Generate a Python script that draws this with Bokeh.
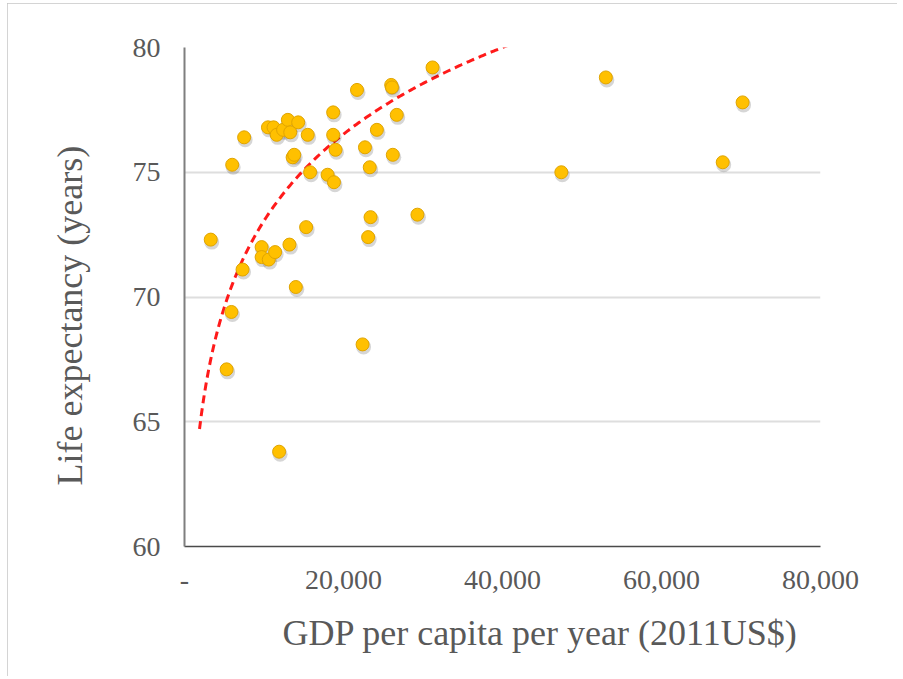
import numpy as np
from bokeh.plotting import figure
from bokeh.models import ColumnDataSource, FixedTicker, NumeralTickFormatter, Range1d, Title
from bokeh.embed import file_html
from bokeh.resources import INLINE

# GDP per capita (2011 US$) and life expectancy (years)
gdp = [3300, 5300, 5900, 6000, 7300, 7500, 9700, 9700, 10600, 11400,
       13200, 15300, 14000, 22400, 11900, 23100, 10500, 11200, 11600, 12400,
       13000, 13300, 14300, 15500, 13600, 13800, 15800, 18000, 18800, 18700,
       18700, 19000, 21700, 26000, 26100, 31200, 26700, 24200, 22700, 26200,
       23300, 23400, 29300, 47400, 53000, 67700, 70200]
life = [72.3, 67.1, 69.4, 75.3, 71.1, 76.4, 72.0, 71.6, 71.5, 71.8,
        72.1, 72.8, 70.4, 68.1, 63.8, 72.4, 76.8, 76.8, 76.5, 76.7,
        77.1, 76.6, 77.0, 76.5, 75.6, 75.7, 75.0, 74.9, 74.6, 77.4,
        76.5, 75.9, 78.3, 78.5, 78.4, 79.2, 77.3, 76.7, 76.0, 75.7,
        75.2, 73.2, 73.3, 75.0, 78.8, 75.4, 77.8]

# logarithmic trend line y = A ln(x) + B
trend_a = 5.01
trend_b = 26.91
trend_x_start = 1890

x_ticks = [0, 20000, 40000, 60000, 80000]
y_ticks = [60, 65, 70, 75, 80]
x_title = "GDP per capita per year (2011US$)"
y_title = "Life expectancy (years)"

FONT = "Liberation Serif"
TXT = "#595959"

p = figure(width=890, height=673, output_backend="svg", toolbar_location=None,
           x_range=Range1d(0, 80000), y_range=Range1d(60, 80),
           min_border_left=177, min_border_right=77,
           min_border_top=44, min_border_bottom=130)
p.styles = {"outline": "1px solid #c6c6c6", "outline-offset": "-1px",
            "margin-left": "7px", "margin-top": "3px"}
p.outline_line_color = None
p.background_fill_color = "white"
p.border_fill_color = "white"

# grid
p.xgrid.grid_line_color = None
p.ygrid.grid_line_color = "#dedede"
p.ygrid.grid_line_width = 2
p.ygrid.ticker = FixedTicker(ticks=y_ticks)

# axes
for ax in (p.xaxis[0], p.yaxis[0]):
    ax.major_tick_line_color = None
    ax.minor_tick_line_color = None
    ax.major_tick_out = 0
    ax.major_tick_in = 0
    ax.major_label_text_font = FONT
    ax.major_label_text_color = TXT
    ax.major_label_text_font_size = "28px"

p.xaxis.ticker = FixedTicker(ticks=x_ticks)
p.xaxis.formatter = NumeralTickFormatter(format="0,0")
p.xaxis.major_label_overrides = {0: "-"}
p.xaxis.axis_line_color = "#4a4a4a"
p.xaxis.axis_line_width = 1.5
p.xaxis.major_label_standoff = 24

p.yaxis.ticker = FixedTicker(ticks=y_ticks)
p.yaxis.axis_line_color = "#7f7f7f"
p.yaxis.axis_line_width = 2
p.yaxis.major_label_standoff = 24

# axis titles (placed off-centre as in the original)
xt = Title(text=x_title, align="left", offset=98, vertical_align="top", standoff=42,
           text_font=FONT, text_font_size="36px", text_font_style="normal", text_color=TXT)
p.add_layout(xt, "below")
yt = Title(text=y_title, align="left", offset=61, vertical_align="bottom", standoff=80,
           text_font=FONT, text_font_size="36px", text_font_style="normal", text_color=TXT)
p.add_layout(yt, "left")

# trend line
tx = np.linspace(trend_x_start, x_ticks[-1], 400)
ty = trend_a * np.log(tx) + trend_b
p.line(tx, ty, line_color="#ff1a1a", line_width=3, line_dash="8 5")

# marker shadows (offset of ~1px right, ~2.5px down)
px_x = (x_ticks[-1] - x_ticks[0]) / 636.0
px_y = (y_ticks[-1] - y_ticks[0]) / 499.0
src = ColumnDataSource(dict(x=gdp, y=life))
shadow = ColumnDataSource(dict(x=[v + 1 * px_x for v in gdp], y=[v - 2.5 * px_y for v in life]))
p.scatter("x", "y", source=shadow, size=15, fill_color="#000000", fill_alpha=0.16, line_color=None)
p.scatter("x", "y", source=src, size=13, fill_color="#FFC000", line_color="#E0A400", line_width=1)

open("out.html", "w").write(file_html(p, INLINE))
